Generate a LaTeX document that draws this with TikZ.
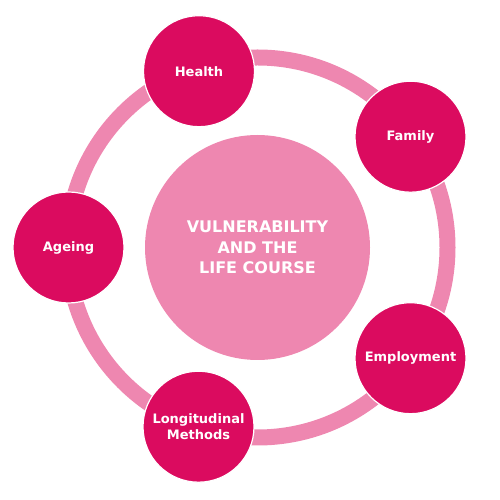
\documentclass[tikz,border=0pt]{standalone}
\usepackage{fontspec}
\setmainfont{DejaVu Sans}
\definecolor{darkpink}{HTML}{DB0B5F}
\definecolor{lightpink}{HTML}{EE87B0}
\begin{document}
\begin{tikzpicture}[x=1pt,y=1pt,
  topic/.style={circle,fill=darkpink,draw=white,line width=1.2pt,minimum size=111pt,inner sep=0pt,
    text=white,align=center,font=\fontsize{13}{16}\selectfont\bfseries},
  hub/.style={circle,fill=lightpink,minimum size=225pt,inner sep=0pt,
    text=white,align=center,font=\fontsize{16}{20.5}\selectfont\bfseries}]
\useasboundingbox (0,0) rectangle (500,500);
\coordinate (c) at (257.5,252.5);
\draw[lightpink,line width=16pt] (c) circle[radius=190];
\node[hub] (hub) at (c) {VULNERABILITY\\AND THE\\LIFE COURSE};
\node[topic] (health) at (199,428.8) {Health};
\node[topic] (family) at (410.5,363.3) {Family};
\node[topic] (employment) at (410.5,141.8) {Employment};
\node[topic] (longitudinal) at (198.5,73.3) {Longitudinal\\Methods};
\node[topic] (ageing) at (68.5,252.5) {Ageing};
\end{tikzpicture}
\end{document}
